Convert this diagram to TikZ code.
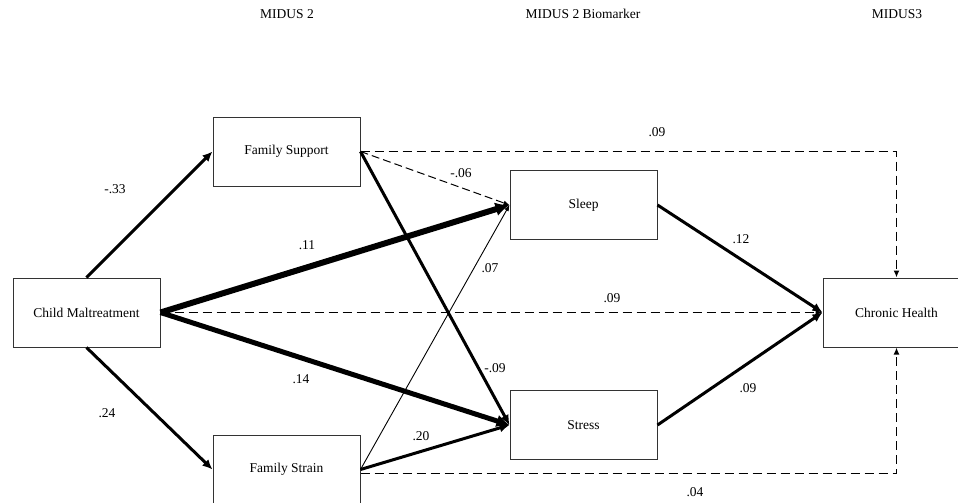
\documentclass[tikz,border=0pt]{standalone}
\usepackage{fontspec}
\setmainfont{Liberation Serif}
\usetikzlibrary{arrows.meta}
\begin{document}
\begin{tikzpicture}[x=1pt,y=-1pt,
  every node/.style={font=\fontsize{13.5}{16}\selectfont},
  boxnode/.style={draw=black!80,line width=1pt,minimum width=147pt,minimum height=69pt,inner sep=0pt,fill=white},
  lbl/.style={inner sep=0pt},
  thickarrow/.style={line width=3pt,-{Latex[length=10pt,width=9pt]}},
  heavyarrow/.style={line width=6pt,-{Latex[length=14pt,width=14pt]}},
  bigarrow/.style={line width=5pt,-{Latex[length=13pt,width=13pt]}},
  thinarrow/.style={line width=0.9pt,-{Latex[length=6pt,width=5pt]}},
  dasharrow/.style={line width=1.4pt,dash pattern=on 9pt off 5pt,-{Latex[length=7pt,width=6pt]}},
  thindash/.style={line width=1pt,dash pattern=on 8pt off 4pt,-{Latex[length=6pt,width=5pt]}}]
\useasboundingbox (0,0) rectangle (958,503);
\fill[white] (0,0) rectangle (958,503);

% headings
\node[lbl] (h1) at (287,14) {MIDUS 2};
\node[lbl] (h2) at (583,14) {MIDUS 2 Biomarker};
\node[lbl] (h3) at (897,14) {MIDUS3};

% connectors drawn first, boxes on top
\coordinate (cmc) at (86.5,312.5);
\coordinate (fsupc) at (286.5,151.5);
\coordinate (sleepc) at (583.5,205);
\coordinate (stressc) at (583.5,425);
\coordinate (fstrc) at (286.5,469.5);
\coordinate (chc) at (896.5,312.5);

\node[boxnode] (cm) at (cmc) {Child Maltreatment};
\node[boxnode] (fsup) at (fsupc) {Family Support};
\node[boxnode] (sleep) at (sleepc) {Sleep};
\node[boxnode] (stress) at (stressc) {Stress};
\node[boxnode] (fstr) at (fstrc) {Family Strain};
\node[boxnode] (ch) at (chc) {Chronic Health};

\draw[thickarrow] (cm.north) -- (fsup.west);
\draw[thickarrow] (cm.south) -- (fstr.west);
\draw[heavyarrow] (cm.east) -- (sleep.west);
\draw[bigarrow] (cm.east) -- (stress.west);
\draw[dasharrow] (cm.east) -- (ch.west);
\draw[thindash] (fsup.east) -- (sleep.west);
\draw[thickarrow] (fsup.east) -- (stress.west);
\draw[dasharrow] (fsup.east) -| (ch.north);
\draw[thinarrow] (fstr.east) -- (sleep.west);
\draw[thickarrow] (fstr.east) -- (stress.west);
\draw[dasharrow] ([yshift=-4pt]fstr.east) -| (ch.south);
\draw[thickarrow] (sleep.east) -- (ch.west);
\draw[thickarrow] (stress.east) -- (ch.west);

% labels
\node[lbl] (l1) at (115,189) {-.33};
\node[lbl] (l2) at (307,245) {.11};
\node[lbl] (l3) at (461,173) {-.06};
\node[lbl] (l4) at (657,132) {.09};
\node[lbl] (l5) at (490,268) {.07};
\node[lbl] (l6) at (612,298) {.09};
\node[lbl] (l7) at (741,239) {.12};
\node[lbl] (l8) at (301,379) {.14};
\node[lbl] (l9) at (495,368) {-.09};
\node[lbl] (l10) at (107,413) {.24};
\node[lbl] (l11) at (421,436) {.20};
\node[lbl] (l12) at (748,388) {.09};
\node[lbl] (l13) at (695,492) {.04};
\end{tikzpicture}
\end{document}
